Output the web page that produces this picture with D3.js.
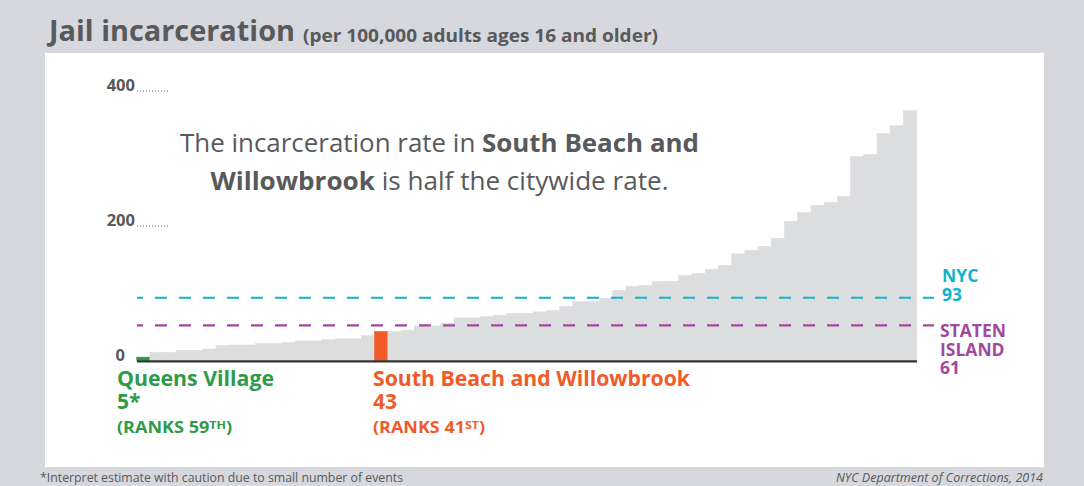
<!DOCTYPE html>
<html>
<head>
<meta charset="utf-8">
<script src="https://cdn.jsdelivr.net/npm/d3@7"></script>
<style>
  html, body { margin: 0; padding: 0; background: #d6d8dd; }
  svg { display: block; }
  text { font-family: "Open Sans", "Noto Sans", sans-serif; }
</style>
</head>
<body>
<svg id="chart" width="1084" height="486"></svg>
<script>
// ---- data ----
// 59 community districts, sorted ascending (jail incarceration per 100,000 adults 16+)
const rates = [5, 12, 12, 15, 15, 17, 22, 23, 23, 25,
               25, 27, 29, 29, 31, 32, 32, 37, 43, 43,
               45, 51, 51, 55, 63, 63, 65, 67, 70, 70,
               72, 74, 80, 87, 87, 92, 104, 110, 111, 117,
               117, 126, 129, 135, 141, 158, 163, 169, 181, 206,
               219, 230, 234, 243, 302, 305, 336, 348, 370];
const highlightIdx = [0, 18];               // Queens Village, South Beach and Willowbrook
const highlightNames = ["Queens Village", "South Beach and Willowbrook"];
const highlightValues = ["5*", "43"];
const highlightRanks = ["59", "41"];
const highlightSuffix = ["TH", "ST"];
const refNames = [["NYC"], ["STATEN", "ISLAND"]];
const refLabels = ["93", "61"];
const refLineValues = [93, 52];             // line positions as drawn in the reference
const yTicks = [0, 200, 400];

// ---- styles ----
const GREY_TEXT = "#58595b";
const BAR_GREY = "#dcdddf";
const HL_COLORS = ["#2e9b48", "#f15a29"];
const REF_COLORS = ["#0fb3cb", "#a1499e"];

const svg = d3.select("#chart");

// background panel
svg.append("rect").attr("x", 0).attr("y", 0).attr("width", 1084).attr("height", 486).attr("fill", "#d6d8dd");
svg.append("rect").attr("x", 45).attr("y", 53).attr("width", 999).attr("height", 414).attr("fill", "#ffffff");

// title
svg.append("text").attr("x", 49).attr("y", 41)
  .attr("font-size", 28).attr("font-weight", 700).attr("fill", GREY_TEXT)
  .attr("textLength", 246).attr("lengthAdjust", "spacingAndGlyphs")
  .text("Jail incarceration");
svg.append("text").attr("x", 303).attr("y", 42)
  .attr("font-size", 17.5).attr("font-weight", 700).attr("fill", GREY_TEXT)
  .attr("textLength", 355).attr("lengthAdjust", "spacingAndGlyphs")
  .text("(per 100,000 adults ages 16 and older)");

// scales
const x = d3.scaleBand().domain(d3.range(rates.length)).range([136.7, 916.7]).padding(0);
const y = d3.scaleLinear().domain([0, 400]).range([360.5, 90.5]);

// bars
svg.append("g").selectAll("rect").data(rates).join("rect")
  .attr("x", (d, i) => x(i))
  .attr("y", d => y(d))
  .attr("width", x.bandwidth())
  .attr("height", d => y(0) - y(d))
  .attr("fill", (d, i) => { const k = highlightIdx.indexOf(i); return k >= 0 ? HL_COLORS[k] : BAR_GREY; })
  .attr("stroke", (d, i) => { const k = highlightIdx.indexOf(i); return k >= 0 ? HL_COLORS[k] : BAR_GREY; })
  .attr("stroke-width", 0.6);

// y axis
const yAxis = svg.append("g").attr("transform", "translate(136,0)")
  .call(d3.axisLeft(y).tickValues(yTicks).tickSize(0).tickPadding(1).tickFormat(d3.format("d")));
yAxis.select(".domain").remove();
yAxis.selectAll("text")
  .attr("dy", 0)
  .attr("font-family", "'Open Sans', sans-serif")
  .attr("font-size", 16.5).attr("font-weight", 700).attr("fill", GREY_TEXT)
  .attr("x", d => d === 0 ? -11 : -1);
yAxis.selectAll(".tick").filter(d => d !== 0).append("line")
  .attr("x1", 1).attr("x2", 32).attr("y1", 0).attr("y2", 0)
  .attr("stroke", "#6d6e71").attr("stroke-width", 1).attr("stroke-dasharray", "1,2");

// reference dashed lines
refLineValues.forEach((v, i) => {
  svg.append("line")
    .attr("x1", 137).attr("x2", 934)
    .attr("y1", y(v)).attr("y2", y(v))
    .attr("stroke", REF_COLORS[i]).attr("stroke-width", 2.2)
    .attr("stroke-dasharray", "12,12").attr("stroke-dashoffset", 6);
});

// baseline
svg.append("line").attr("x1", 137).attr("x2", 917).attr("y1", y(0) + 0.8).attr("y2", y(0) + 0.8)
  .attr("stroke", "#333333").attr("stroke-width", 2.2);

// reference labels (one text per line)
const refLabelY = [282, 337];
const refLabelX = [942, 940];
refNames.forEach((lines, i) => {
  lines.concat([refLabels[i]]).forEach((s, j) => {
    svg.append("text").attr("x", refLabelX[i]).attr("y", refLabelY[i] + j * 18.5)
      .attr("font-size", 17.5).attr("font-weight", 700).attr("fill", REF_COLORS[i])
      .text(s);
  });
});

// highlight labels
const hlX = [117, 373];
const hlNameW = [157, 317];
const hlRankW = [115, 112];
highlightIdx.forEach((idx, k) => {
  svg.append("text").attr("x", hlX[k]).attr("y", 386)
    .attr("font-size", 21).attr("font-weight", 700).attr("fill", HL_COLORS[k])
    .attr("textLength", hlNameW[k]).attr("lengthAdjust", "spacingAndGlyphs")
    .text(highlightNames[k]);
  svg.append("text").attr("x", hlX[k]).attr("y", 409)
    .attr("font-size", 21).attr("font-weight", 700).attr("fill", HL_COLORS[k])
    .text(highlightValues[k]);
  const r = svg.append("text").attr("x", hlX[k]).attr("y", 433)
    .attr("font-size", 16).attr("font-weight", 700).attr("fill", HL_COLORS[k])
    .attr("textLength", hlRankW[k]).attr("lengthAdjust", "spacingAndGlyphs");
  r.append("tspan").text("(RANKS " + highlightRanks[k]);
  r.append("tspan").attr("font-size", 11).attr("dy", -4.5).text(highlightSuffix[k]);
  r.append("tspan").attr("dy", 4.5).text(")");
});

// annotation
const ann = svg.append("g").attr("fill", GREY_TEXT).attr("font-size", 25);
const l1 = ann.append("text").attr("x", 439.5).attr("y", 152).attr("text-anchor", "middle")
  .attr("textLength", 519).attr("lengthAdjust", "spacingAndGlyphs");
l1.append("tspan").text("The incarceration rate in ");
l1.append("tspan").attr("font-weight", 700).text("South Beach and");
const l2 = ann.append("text").attr("x", 439.5).attr("y", 190).attr("text-anchor", "middle")
  .attr("textLength", 458).attr("lengthAdjust", "spacingAndGlyphs");
l2.append("tspan").attr("font-weight", 700).text("Willowbrook");
l2.append("tspan").text(" is half the citywide rate.");

// footnotes
svg.append("text").attr("x", 40).attr("y", 482)
  .attr("font-size", 13.5).attr("fill", GREY_TEXT)
  .attr("textLength", 363).attr("lengthAdjust", "spacingAndGlyphs")
  .text("*Interpret estimate with caution due to small number of events");
svg.append("text").attr("x", 1043).attr("y", 482).attr("text-anchor", "end")
  .attr("font-size", 13.5).attr("font-style", "italic").attr("fill", GREY_TEXT)
  .attr("textLength", 207).attr("lengthAdjust", "spacingAndGlyphs")
  .text("NYC Department of Corrections, 2014");
</script>
</body>
</html>
